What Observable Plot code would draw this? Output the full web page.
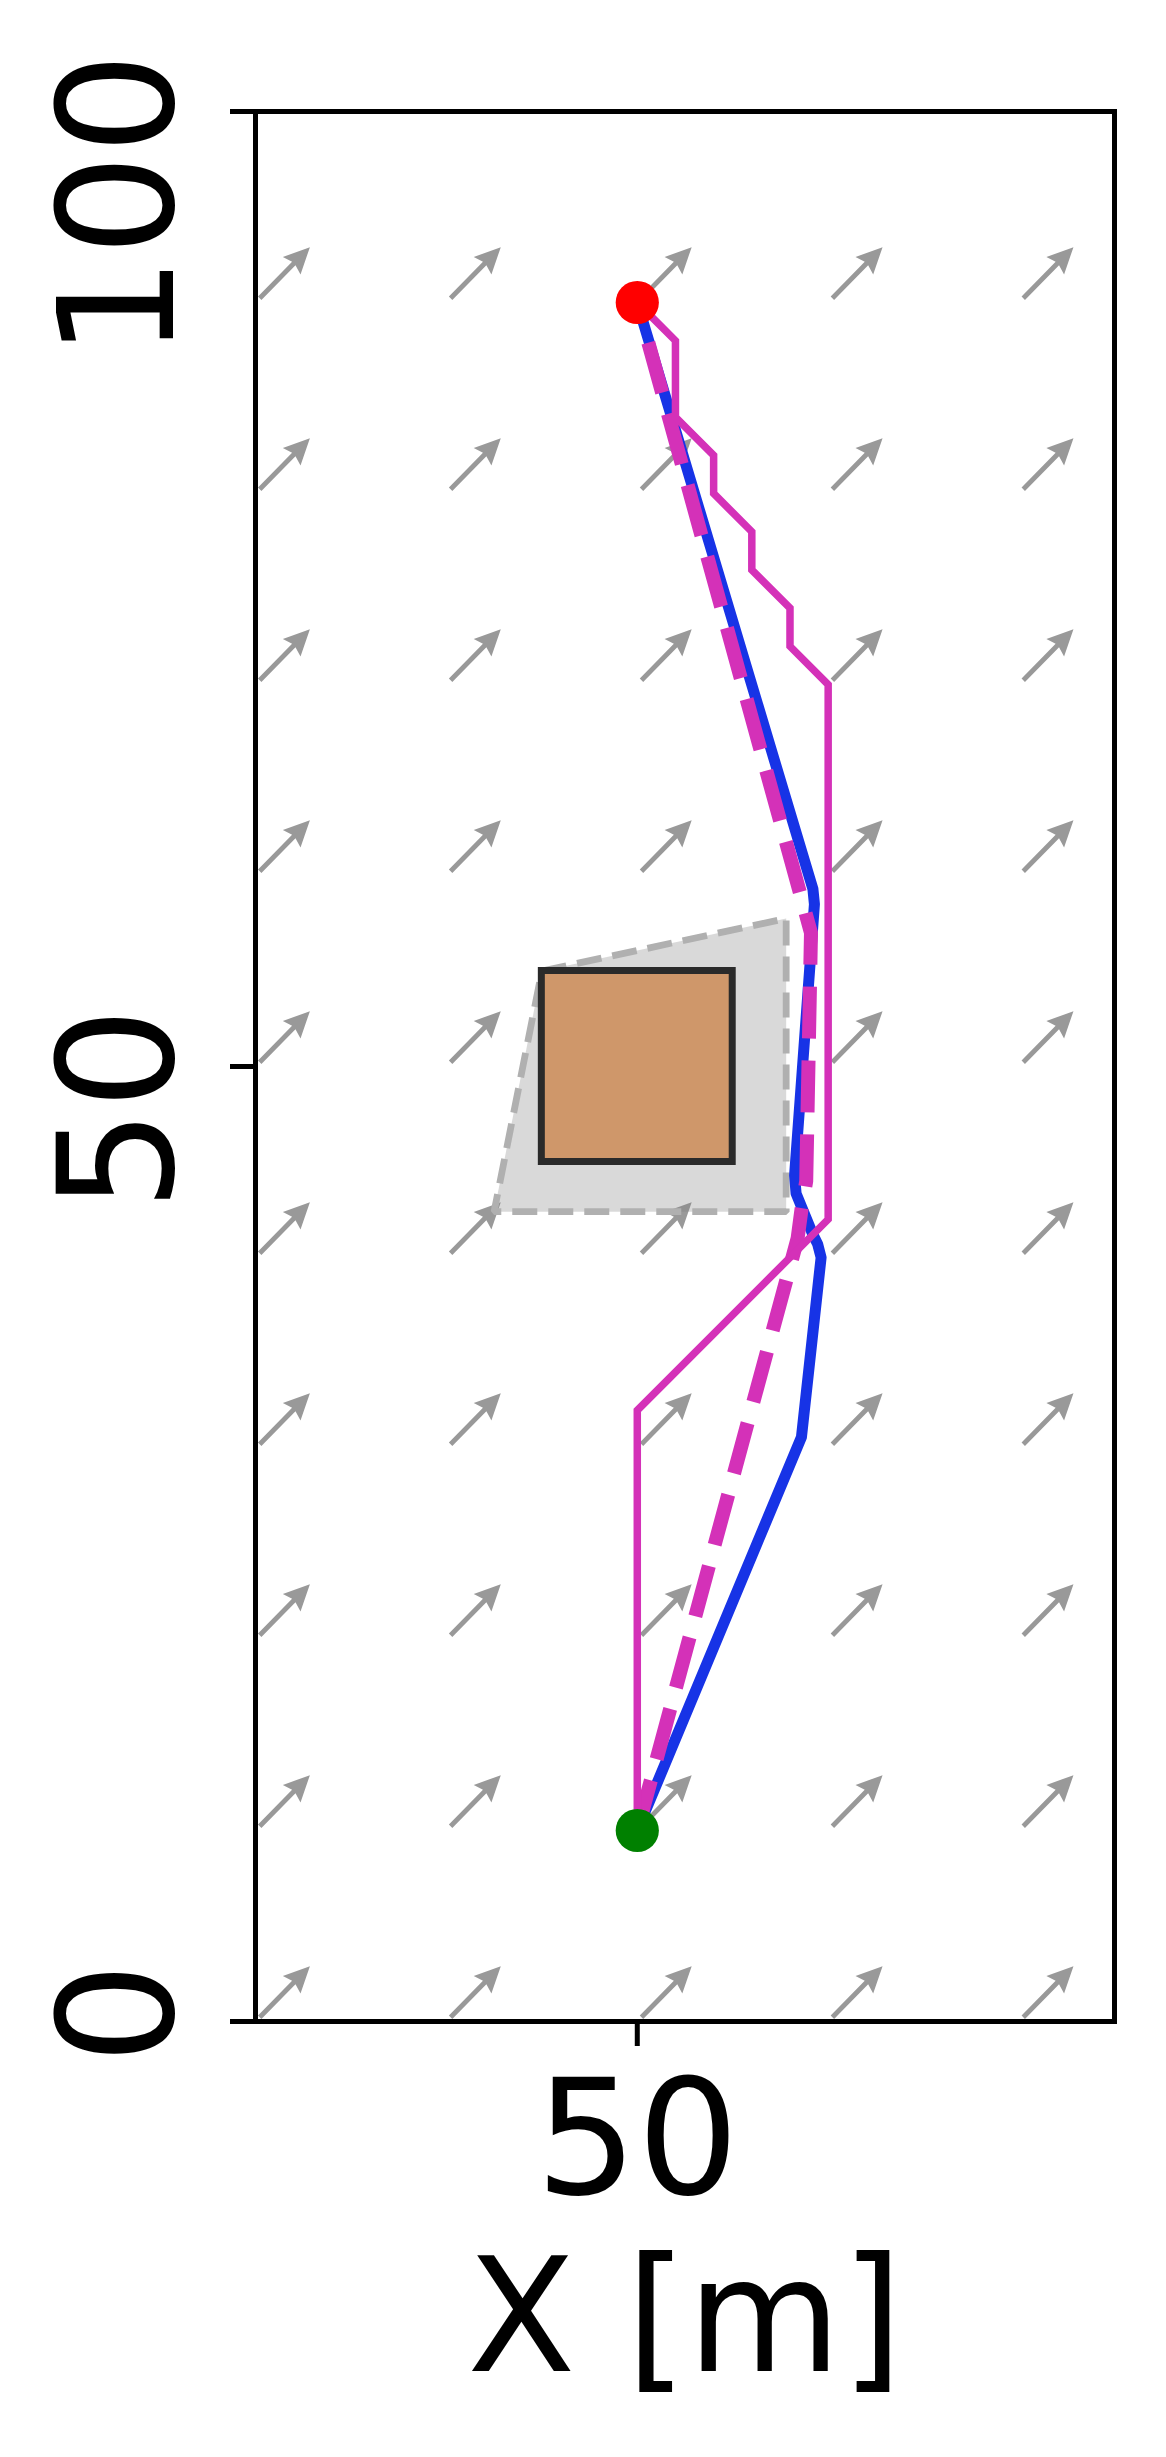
<!DOCTYPE html>
<html>
<head>
<meta charset="utf-8">
<script src="https://cdn.jsdelivr.net/npm/d3@7"></script>
<script src="https://cdn.jsdelivr.net/npm/@observablehq/plot@0.6"></script>
<style>
  html, body { margin: 0; padding: 0; background: #ffffff; overflow: hidden; }
  #chart svg { display: block; font-family: "DejaVu Sans", sans-serif; }
</style>
</head>
<body>
<div id="chart"></div>
<script>
// ---- data ----
const xTicks = [50];
const yTicks = [0, 50, 100];
const xLabel = "X [m]";

// wind field grid (quiver)
const windGridX = [30, 40, 50, 60, 70];
const windGridY = [0, 10, 20, 30, 40, 50, 60, 70, 80, 90];
const windU = 2.85;
const windV = 2.9;

// start / goal
const startPoint = [50, 10];
const goalPoint = [50, 90];

// obstacle (square) and its inflated region
const obstacleX = [45, 55];
const obstacleY = [45, 55];
const inflatedX = [45, 57.8, 57.8, 42.5, 45];
const inflatedY = [55, 57.75, 42.4, 42.4, 55];

// trajectories
const blueX = [50, 58.6, 59.63, 59.45, 59.2, 58.32, 58.24, 59.28, 59.2, 50];
const blueY = [10, 30.6, 40.0, 40.7, 41.2, 43.35, 44.3, 58.5, 59.3, 90];

const dashedX = [50, 58.4, 58.6, 58.85, 59.1, 50];
const dashedY = [10, 41.0, 42.5, 44.0, 57.0, 90];

const gridPathX = [50, 52, 52, 54, 54, 56, 56, 58, 58, 60, 60, 50, 50];
const gridPathY = [90, 88, 84, 82, 80, 78, 76, 74, 72, 70, 42, 32, 10];

// ---- layout ----
const W = 1166, H = 2457;
const mL = 255, mR = 52, mT = 111, mB = 436;
const xDomain = [30, 75], yDomain = [0, 100];
const pxPerUnit = (W - mL - mR) / (xDomain[1] - xDomain[0]);

const toPts = (xs, ys) => xs.map((x, i) => ({x, y: ys[i]}));
const windRows = windGridX.flatMap(x => windGridY.map(y => ({x, y, u: windU, v: windV})));
const arrowLen = Math.hypot(windU, windV) * pxPerUnit;

const quiverShape = {
  draw(context, l) {
    const s = 2.4, hw = 12.4, hl = 26, hal = 23, start = 6;
    context.moveTo(-s, -start);
    context.lineTo(-s, -(l - hal));
    context.lineTo(-hw, -(l - hl));
    context.lineTo(0, -l);
    context.lineTo(hw, -(l - hl));
    context.lineTo(s, -(l - hal));
    context.lineTo(s, -start);
    context.closePath();
  }
};

const plot = Plot.plot({
  width: W,
  height: H,
  marginLeft: mL,
  marginRight: mR,
  marginTop: mT,
  marginBottom: mB,
  x: {domain: xDomain},
  y: {domain: yDomain},
  style: {background: "#ffffff", fontFamily: "DejaVu Sans, sans-serif"},
  marks: [
    Plot.vector(windRows, {
      x: "x", y: "y",
      rotate: d => Math.atan2(d.u, d.v) * 180 / Math.PI,
      length: arrowLen,
      anchor: "start",
      shape: quiverShape,
      fill: "#999999",
      stroke: "none"
    }),
    Plot.line(toPts(inflatedX, inflatedY), {
      x: "x", y: "y",
      fill: "gray", fillOpacity: 0.3,
      stroke: "#b0b0b0", strokeWidth: 6.8, strokeDasharray: "25,11",
      strokeLinejoin: "miter", strokeLinecap: "butt"
    }),
    Plot.rect([{x1: obstacleX[0], x2: obstacleX[1], y1: obstacleY[0], y2: obstacleY[1]}], {
      x1: "x1", x2: "x2", y1: "y1", y2: "y2",
      fill: "#cf976a", stroke: "#2a2a2a", strokeWidth: 7
    }),
    Plot.line(toPts(blueX, blueY), {
      x: "x", y: "y", stroke: "#1733e6", strokeWidth: 11,
      strokeLinejoin: "round", strokeLinecap: "round"
    }),
    Plot.line(toPts(dashedX, dashedY), {
      x: "x", y: "y", stroke: "#d431b8", strokeWidth: 14,
      strokeDasharray: "52,22", strokeLinecap: "butt"
    }),
    Plot.line(toPts(gridPathX, gridPathY), {
      x: "x", y: "y", stroke: "#d431b8", strokeWidth: 7.5,
      strokeLinejoin: "miter", strokeLinecap: "butt", strokeMiterlimit: 10
    }),
    Plot.dot([goalPoint], {x: d => d[0], y: d => d[1], r: 21.6, fill: "#ff0000", stroke: "none"}),
    Plot.dot([startPoint], {x: d => d[0], y: d => d[1], r: 21.6, fill: "#008000", stroke: "none"}),
    Plot.frame({stroke: "#000000", strokeWidth: 5}),
    Plot.axisY({ticks: yTicks, tickSize: 25, strokeWidth: 5, stroke: "#000000", fill: "none", label: null}),
    Plot.axisX({ticks: xTicks, tickSize: 25, strokeWidth: 5, stroke: "#000000", fill: "none", label: null}),
    Plot.text(yTicks, {
      y: d => d, frameAnchor: "left", text: d => String(d),
      rotate: -90, textAnchor: "end", lineAnchor: "middle", dx: -134, dy: -59,
      fontSize: 160, fill: "#000000"
    }),
    Plot.text(xTicks, {
      x: d => d, frameAnchor: "bottom", text: d => String(d),
      lineAnchor: "middle", dy: 121, fontSize: 160, fill: "#000000"
    }),
    Plot.text([xLabel], {
      frameAnchor: "bottom", text: d => d,
      lineAnchor: "middle", dy: 299, fontSize: 158, fill: "#000000"
    })
  ]
});
document.getElementById("chart").appendChild(plot);
</script>
</body>
</html>
